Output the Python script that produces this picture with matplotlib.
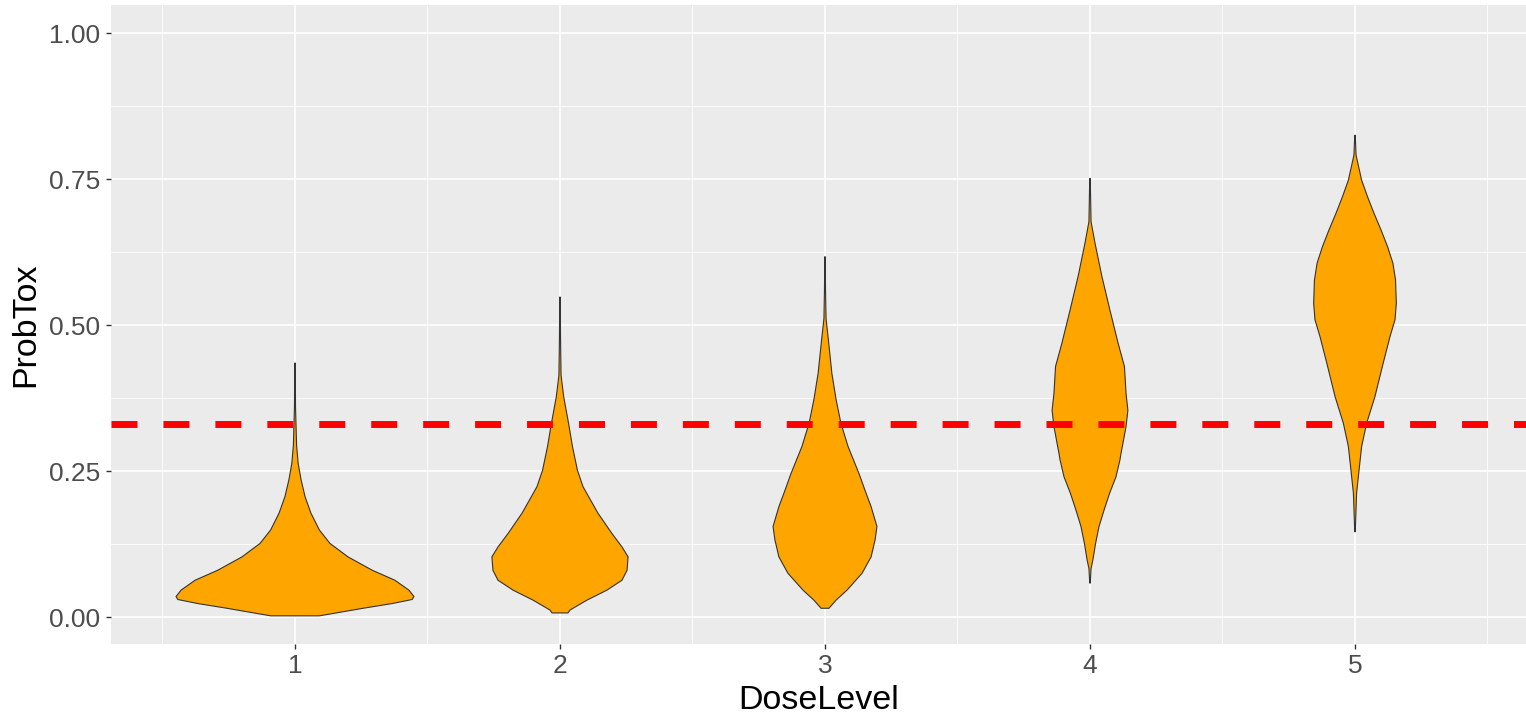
import matplotlib
matplotlib.use("Agg")
import matplotlib.pyplot as plt
import numpy as np

plt.rcParams['font.family'] = ['Liberation Sans', 'DejaVu Sans']

# ---- data ----
dose_levels = [1, 2, 3, 4, 5]
dose_labels = ["1", "2", "3", "4", "5"]
target_tox = 0.33

# violin outlines: ProbTox values and half-widths (in x-axis units)
v1_y = [0.002, 0.006, 0.015, 0.023, 0.030, 0.035, 0.046, 0.063, 0.080, 0.103, 0.126, 0.149,
        0.178, 0.206, 0.235, 0.263, 0.294, 0.360, 0.435]
v1_hw = [0.091, 0.143, 0.257, 0.366, 0.442, 0.449, 0.430, 0.377, 0.292, 0.200, 0.132, 0.092,
         0.060, 0.038, 0.023, 0.012, 0.006, 0.002, 0.001]

v2_y = [0.007, 0.012, 0.029, 0.046, 0.063, 0.080, 0.103, 0.120, 0.143, 0.178, 0.223, 0.251,
        0.292, 0.330, 0.377, 0.414, 0.480, 0.548]
v2_hw = [0.030, 0.038, 0.102, 0.177, 0.234, 0.253, 0.257, 0.234, 0.196, 0.143, 0.087, 0.066,
         0.047, 0.033, 0.014, 0.004, 0.002, 0.001]

v3_y = [0.015, 0.029, 0.046, 0.075, 0.103, 0.132, 0.155, 0.189, 0.212, 0.246, 0.292, 0.332,
        0.372, 0.417, 0.474, 0.511, 0.560, 0.617]
v3_hw = [0.015, 0.042, 0.083, 0.140, 0.174, 0.189, 0.196, 0.174, 0.155, 0.128, 0.087, 0.060,
         0.042, 0.026, 0.013, 0.004, 0.002, 0.001]

v4_y = [0.058, 0.083, 0.098, 0.126, 0.155, 0.183, 0.212, 0.240, 0.269, 0.280, 0.326, 0.354,
        0.383, 0.429, 0.469, 0.526, 0.583, 0.640, 0.677, 0.751]
v4_hw = [0.001, 0.004, 0.011, 0.021, 0.034, 0.053, 0.074, 0.098, 0.113, 0.117, 0.136, 0.143,
         0.136, 0.130, 0.106, 0.075, 0.045, 0.019, 0.004, 0.001]

v5_y = [0.146, 0.212, 0.246, 0.292, 0.332, 0.377, 0.434, 0.480, 0.509, 0.537, 0.577, 0.606,
        0.634, 0.663, 0.691, 0.720, 0.748, 0.791, 0.825]
v5_hw = [0.001, 0.006, 0.014, 0.025, 0.044, 0.075, 0.106, 0.132, 0.151, 0.156, 0.153, 0.143,
         0.123, 0.098, 0.072, 0.047, 0.025, 0.004, 0.001]

violins_y = [v1_y, v2_y, v3_y, v4_y, v5_y]
violins_hw = [v1_hw, v2_hw, v3_hw, v4_hw, v5_hw]

y_ticks = [0.00, 0.25, 0.50, 0.75, 1.00]
y_ticklabels = ["0.00", "0.25", "0.50", "0.75", "1.00"]
y_minor = [0.125, 0.375, 0.625, 0.875]
x_minor = [0.5, 1.5, 2.5, 3.5, 4.5, 5.5]

# ---- figure ----
W, H = 1526, 717
fig = plt.figure(figsize=(W / 100, H / 100), dpi=100)
ax = fig.add_axes([111 / W, (H - 644) / H, (W - 111) / W, (644 - 5) / H])
ax.set_facecolor('#EBEBEB')
for s in ax.spines.values():
    s.set_visible(False)

ax.set_xlim(0.3057, 5.6453)
ax.set_ylim(-0.0462, 1.048)

# grid
for yv in y_minor:
    ax.axhline(yv, color='white', lw=0.6, zorder=0.5)
for xv in x_minor:
    ax.axvline(xv, color='white', lw=0.6, zorder=0.5)
for yv in y_ticks:
    ax.axhline(yv, color='white', lw=1.2, zorder=0.6)
for xv in dose_levels:
    ax.axvline(xv, color='white', lw=1.2, zorder=0.6)

# violins
for pos, ys, hws in zip(dose_levels, violins_y, violins_hw):
    ys = np.asarray(ys)
    hws = np.asarray(hws)
    xs = np.concatenate([pos + hws, (pos - hws)[::-1]])
    yy = np.concatenate([ys, ys[::-1]])
    ax.fill(xs, yy, facecolor='#FFA500', edgecolor='#333333', lw=0.8, zorder=2)

# target line
lw = 5.0
ax.axhline(target_tox, color='#FF0000', lw=lw, zorder=3,
           linestyle=(0, (18.7 / lw, 18.7 / lw)), dash_capstyle='butt')

ax.set_xticks(dose_levels)
ax.set_xticklabels(dose_labels)
ax.set_yticks(y_ticks)
ax.set_yticklabels(y_ticklabels)
ax.tick_params(axis='both', which='major', length=3.5, width=1.0, color='#333333',
               labelsize=19, labelcolor='#4D4D4D', pad=4)
ax.tick_params(axis='both', which='minor', length=0)

ax.set_xlabel('DoseLevel', fontsize=24.5, color='black', labelpad=5)
ax.set_ylabel('ProbTox', fontsize=24.5, color='black', labelpad=6)

fig.savefig('out.png', dpi=100, facecolor='white')
